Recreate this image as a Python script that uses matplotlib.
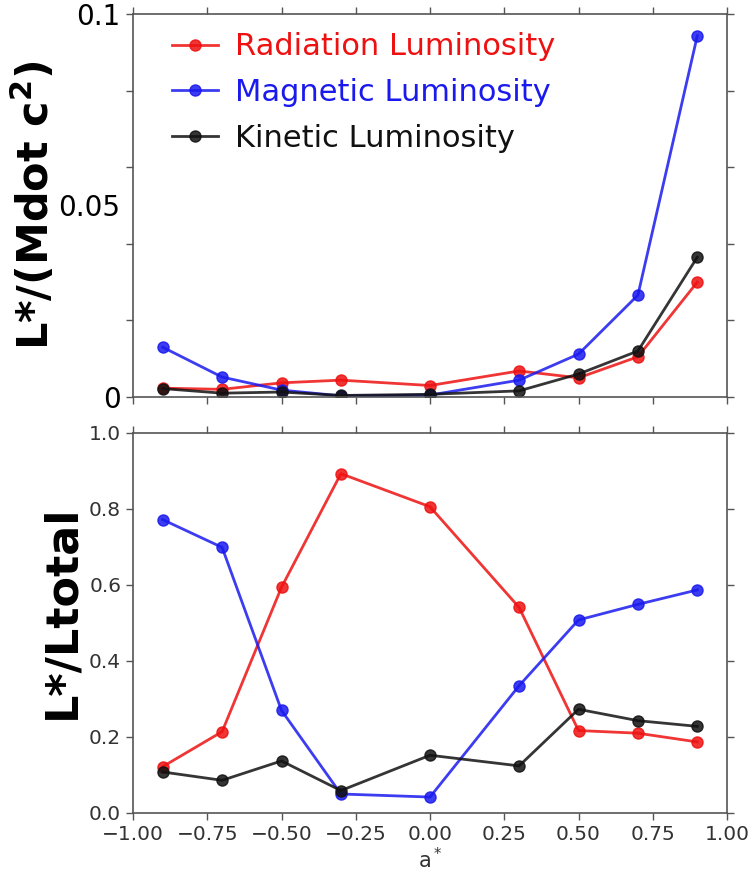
import matplotlib
matplotlib.use("Agg")
import matplotlib.pyplot as plt
import numpy as np

spin = [-0.9, -0.7, -0.5, -0.3, 0.0, 0.3, 0.5, 0.7, 0.9]

# top panel: L / (Mdot c^2)
rad_eff = [0.0023, 0.0020, 0.0037, 0.0044, 0.0030, 0.0068, 0.0050, 0.0105, 0.0300]
mag_eff = [0.0130, 0.0052, 0.0018, 0.0003, 0.0005, 0.0044, 0.0112, 0.0266, 0.0943]
kin_eff = [0.0022, 0.0010, 0.0013, 0.0004, 0.0007, 0.0016, 0.0060, 0.0120, 0.0365]

# bottom panel: L / Ltotal
rad_frac = [0.122, 0.214, 0.594, 0.893, 0.806, 0.541, 0.217, 0.210, 0.187]
mag_frac = [0.772, 0.699, 0.270, 0.050, 0.042, 0.335, 0.508, 0.549, 0.587]
kin_frac = [0.108, 0.086, 0.137, 0.059, 0.152, 0.124, 0.273, 0.243, 0.228]

labels = ["Radiation Luminosity", "Magnetic Luminosity", "Kinetic Luminosity"]
colors = ["#ee1111", "#1a1aee", "#111111"]

top_minor_ticks = [0.02, 0.04, 0.06, 0.08]
top_label_pos = [0.0, 0.05, 0.1]
top_labels = ["0", "0.05", "0.1"]
bot_ticks = [0.0, 0.2, 0.4, 0.6, 0.8, 1.0]
x_ticks = [-1.0, -0.75, -0.5, -0.25, 0.0, 0.25, 0.5, 0.75, 1.0]

plt.rcParams['font.family'] = ['DejaVu Sans']
fig = plt.figure(figsize=(7.53, 8.75), dpi=100)
W, H = 753, 875
ax1 = fig.add_axes([133 / W, 1 - 397 / H, (727 - 133) / W, (397 - 14) / H])
ax2 = fig.add_axes([133 / W, 1 - 813 / H, (727 - 133) / W, (813 - 433) / H])

line_kw = dict(lw=2, marker='o', ms=8, alpha=0.85)
for ys, c, lab in zip([rad_eff, mag_eff, kin_eff], colors, labels):
    ax1.plot(spin, ys, color=c, label=lab, **line_kw)
for ys, c in zip([rad_frac, mag_frac, kin_frac], colors):
    ax2.plot(spin, ys, color=c, **line_kw)

for ax in (ax1, ax2):
    ax.set_xlim(-1, 1)
    ax.set_xticks(x_ticks)
    for s in ax.spines.values():
        s.set_color('#555555')
        s.set_linewidth(1.2)
    ax.tick_params(which='both', direction='out', length=5, color='#555555',
                   top=True, right=True, width=1)

ax1.set_ylim(0, 0.1)
ax1.set_yticks(top_label_pos)
ax1.set_yticklabels(top_labels)
ax1.set_yticks(top_minor_ticks, minor=True)
ax1.set_xticklabels([])
ax1.tick_params(axis='x', which='minor', bottom=False, top=False)
ax1.tick_params(axis='y', which='major', labelsize=20, pad=4)
mid = ax1.yaxis.get_major_ticks()[1]
mid.tick1line.set_visible(False)
mid.tick2line.set_visible(False)
ax1.set_ylabel("L*/(Mdot c$^\\mathbf{2}$)", fontsize=31, fontweight='bold', labelpad=0)

ax2.set_ylim(0, 1.0)
ax2.set_yticks(bot_ticks)
ax2.set_yticklabels([f"{v:.1f}" for v in bot_ticks])
ax2.set_xticklabels([f"{v:.2f}".replace('-', '\u2212') for v in x_ticks])
ax2.tick_params(labelsize=14.5, labelcolor='#333333')
ax2.set_ylabel("L*/Ltotal", fontsize=32, fontweight='bold')
ax2.yaxis.set_label_coords(-0.084, 0.53)
ax2.set_xlabel("a$^*$", fontsize=15, color='#333333', labelpad=2)

leg = ax1.legend(loc='upper left', fontsize=22, frameon=False, handlelength=1.5,
                 handletextpad=0.55, labelspacing=0.55, borderaxespad=0.2,
                 bbox_to_anchor=(0.035, 1.0))
for t, c in zip(leg.get_texts(), colors):
    t.set_color(c)

fig.savefig("out.png", dpi=100)
